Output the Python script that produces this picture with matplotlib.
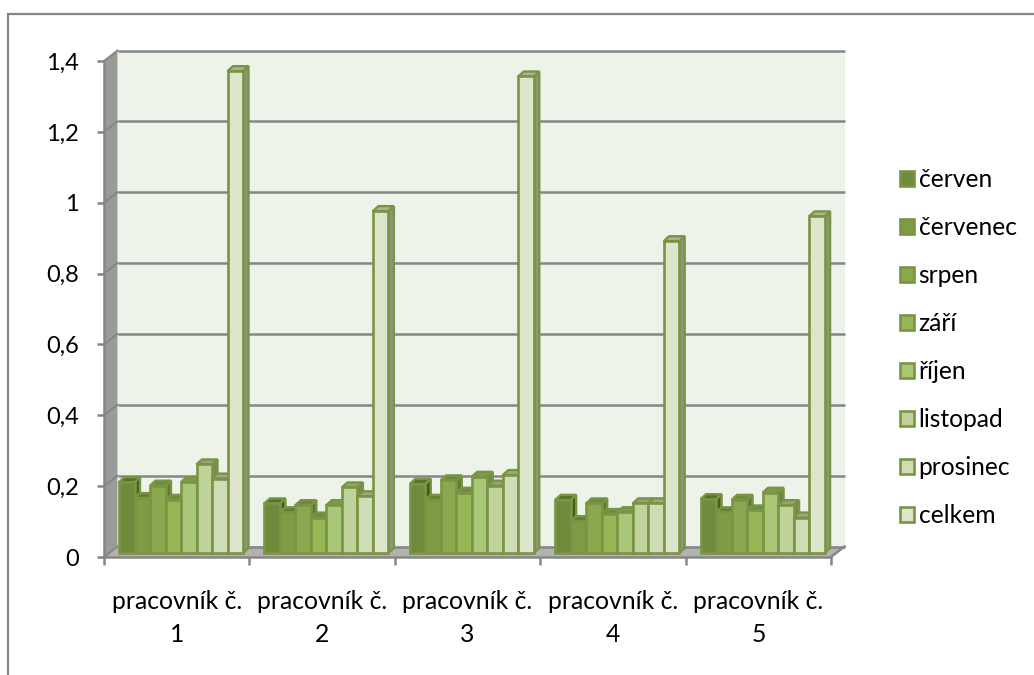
import numpy as np
import matplotlib
matplotlib.use("Agg")
import matplotlib.pyplot as plt
from matplotlib.patches import Patch, Polygon, Rectangle

plt.rcParams["font.family"] = ["Lato", "DejaVu Sans"]

workers = ["pracovník č.\n1", "pracovník č.\n2", "pracovník č.\n3", "pracovník č.\n4", "pracovník č.\n5"]
months = ["červen", "červenec", "srpen", "září", "říjen", "listopad", "prosinec", "celkem"]

cerven = [0.20, 0.14, 0.195, 0.15, 0.152]
cervenec = [0.155, 0.115, 0.15, 0.09, 0.115]
srpen = [0.19, 0.135, 0.205, 0.14, 0.15]
zari = [0.15, 0.10, 0.17, 0.11, 0.12]
rijen = [0.20, 0.135, 0.215, 0.115, 0.17]
listopad = [0.25, 0.185, 0.19, 0.14, 0.135]
prosinec = [0.21, 0.16, 0.22, 0.14, 0.10]
celkem = [1.36, 0.965, 1.345, 0.88, 0.95]
series = [cerven, cervenec, srpen, zari, rijen, listopad, prosinec, celkem]

yticks = [0, 0.2, 0.4, 0.6, 0.8, 1.0, 1.2, 1.4]
ylabels = ["0", "0,2", "0,4", "0,6", "0,8", "1", "1,2", "1,4"]

face = ["#6f8a3c", "#7f9c45", "#8ba84f", "#97b757", "#a9c776", "#bfd39a", "#cfddb6", "#dde6cb"]
top = ["#55702b", "#64802f", "#6c8a38", "#6f8d3a", "#7d9a4c", "#8ea770", "#97ad7c", "#a8b78f"]
side = ["#46591f", "#566c2a", "#5e7a30", "#607c32", "#6c8543", "#77875f", "#7f8d6c", "#8d9780"]
edge = "#7a9445"
GRID = "#868686"

W, H = 1034, 675
L, R, T, B = 104, 831, 61, 557
fig = plt.figure(figsize=(W / 100, H / 100), dpi=100)
fig.patches.append(Rectangle((8 / W, -0.1), 1.1, 1.1 - 14 / H, transform=fig.transFigure,
                             fc="white", ec=GRID, lw=1.6, zorder=-1))
ax = fig.add_axes([L / W, 1 - B / H, (R - L) / W, (B - T) / H])
ax.set_xlim(0, 5)
ax.set_ylim(0, 1.4)
ax.patch.set_visible(False)

# pixel sizes converted to data units for the fake depth
px_x = 5 / (R - L)
px_y = 1.4 / (B - T)
wall_dx, wall_dy = 13.5 * px_x, 10.5 * px_y
bar_dx, bar_dy = 5.5 * px_x, 5.0 * px_y
off_y = 4.0 * px_y


def poly(pts, fc, ec="none", lw=0, z=1):
    ax.add_patch(Polygon(pts, closed=True, fc=fc, ec=ec, lw=lw, zorder=z, clip_on=False))


# back wall, left wall and floor
poly([(wall_dx, wall_dy), (5 + wall_dx, wall_dy), (5 + wall_dx, 1.4 + wall_dy), (wall_dx, 1.4 + wall_dy)], "#eef3e9")
poly([(0, 0), (wall_dx, wall_dy), (wall_dx, 1.4 + wall_dy), (0, 1.4)], "#999b96")
poly([(0, 0), (5, 0), (5 + wall_dx, wall_dy), (wall_dx, wall_dy)], "#b2b3af")

for v in yticks:
    ax.plot([wall_dx, 5 + wall_dx], [v + wall_dy, v + wall_dy], color=GRID, lw=1.8, zorder=2, clip_on=False,
            solid_capstyle="butt")
    ax.plot([0, wall_dx], [v, v + wall_dy], color=GRID, lw=1.4, zorder=2, clip_on=False)
ax.plot([5, 5 + wall_dx], [0, wall_dy], color=GRID, lw=1.8, zorder=2, clip_on=False)

# bars, one group per worker
slot_start = 15 / 145.4
bar_w = 15.5 * px_x
z = 3
for g in range(len(workers)):
    for s, vals in enumerate(series):
        x0 = g + slot_start + s * bar_w
        v = vals[g]
        y1 = off_y + v
        poly([(x0 + bar_w, off_y), (x0 + bar_w + bar_dx, off_y + bar_dy),
              (x0 + bar_w + bar_dx, y1 + bar_dy), (x0 + bar_w, y1)], side[s], edge, 1.7, z)
        poly([(x0, y1), (x0 + bar_w, y1), (x0 + bar_w + bar_dx, y1 + bar_dy), (x0 + bar_dx, y1 + bar_dy)],
             top[s], edge, 1.7, z)
        ax.bar(x0, v, bar_w, bottom=off_y, align="edge", color=face[s], edgecolor=edge, linewidth=1.9,
               zorder=z + 0.5, clip_on=False)
        z += 1

for sp in ["top", "right"]:
    ax.spines[sp].set_visible(False)
for sp in ["left", "bottom"]:
    ax.spines[sp].set_color(GRID)
    ax.spines[sp].set_linewidth(1.8)
    ax.spines[sp].set_zorder(1000)

ax.set_yticks(yticks, ylabels)
ax.set_xticks(range(6), [""] * 6)
ax.set_xticks(np.arange(5) + 0.5, workers, minor=True)
ax.tick_params(axis="y", length=5, width=1.8, color=GRID, labelsize=17, pad=13)
ax.tick_params(axis="x", which="major", length=6, width=1.8, color=GRID)
ax.tick_params(axis="x", which="minor", length=0, labelsize=17.8, pad=24)
for lab in ax.get_xticklabels(minor=True):
    lab.set_linespacing(1.5)

handles = [Patch(facecolor=face[i], edgecolor=edge, linewidth=1.9) for i in range(len(months))]
fig.legend(handles, months, loc="upper left", bbox_to_anchor=(890 / W, 1 - 158 / H), frameon=False,
           fontsize=17.7, handlelength=0.56, handleheight=0.56, handletextpad=0.2, labelspacing=1.017,
           borderpad=0.4, borderaxespad=0)

fig.savefig("out.png", dpi=100)
